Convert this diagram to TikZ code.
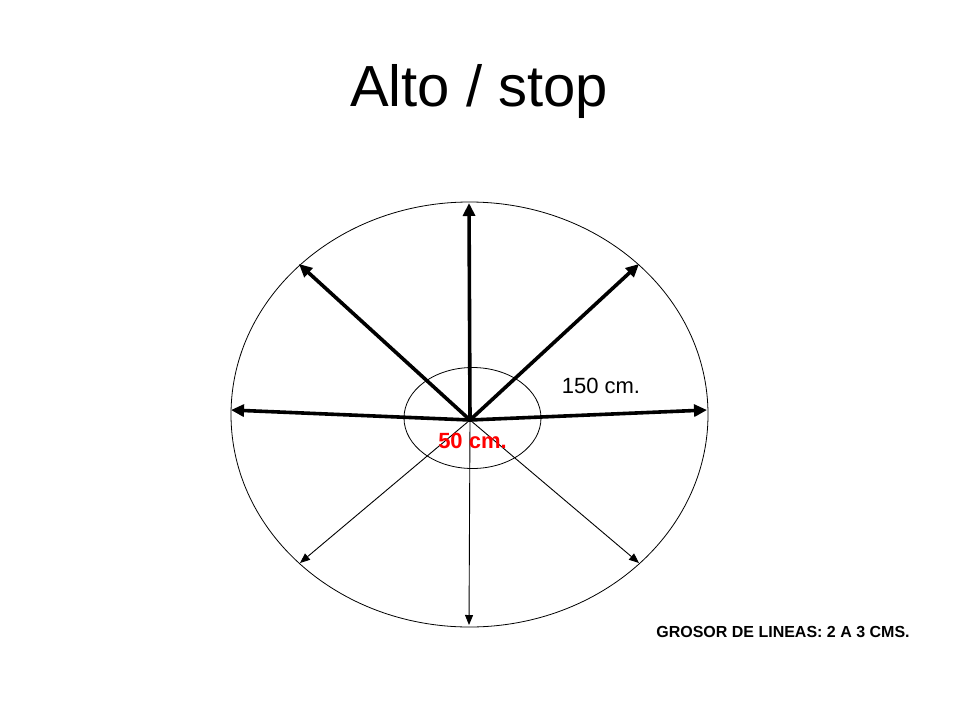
\documentclass[tikz,border=0pt]{standalone}
\usepackage{fontspec}
\setmainfont{Liberation Sans}
\usetikzlibrary{arrows.meta}
\begin{document}
\begin{tikzpicture}[x=1pt,y=-1pt,
  thickarrow/.style={line width=3.6pt,-{Triangle[length=13pt,width=12pt]}},
  thinarrow/.style={line width=0.9pt,-{Triangle[length=10pt,width=8pt]}},
  ring/.style={line width=0.8pt},
  lbl/.style={inner sep=0pt,anchor=center}]
\useasboundingbox (0,0) rectangle (960,720);
\node[lbl,font=\fontsize{58}{60}\selectfont] (title) at (479,92) {Alto / stop};
\draw[ring] (469.5,414.5) ellipse [x radius=238.5, y radius=212.5];
\draw[ring] (472.5,418) ellipse [x radius=68.5, y radius=50.5];
\coordinate (c) at (470,420);
\coordinate (u) at (469,203);
\coordinate (ul) at (299,264);
\coordinate (ur) at (639,264);
\coordinate (l) at (231,410);
\coordinate (r) at (707,410);
\coordinate (dl) at (300,563);
\coordinate (d) at (469,625);
\coordinate (dr) at (639,563);
\draw[thickarrow] (c) -- (u);
\draw[thickarrow] (c) -- (ul);
\draw[thickarrow] (c) -- (ur);
\draw[thickarrow] (c) -- (l);
\draw[thickarrow] (c) -- (r);
\draw[thinarrow] (c) -- (dl);
\draw[thinarrow] (c) -- (d);
\draw[thinarrow] (c) -- (dr);
\node[lbl,font=\fontsize{22}{24}\selectfont] (big) at (601,386) {150 cm.};
\node[lbl,font=\fontsize{22}{24}\selectfont\bfseries,text=red] (small) at (472.5,441) {50 cm.};
\node[lbl,font=\fontsize{16}{18}\selectfont\bfseries] (note) at (783,632) {GROSOR DE LINEAS: 2 A 3 CMS.};
\end{tikzpicture}
\end{document}
